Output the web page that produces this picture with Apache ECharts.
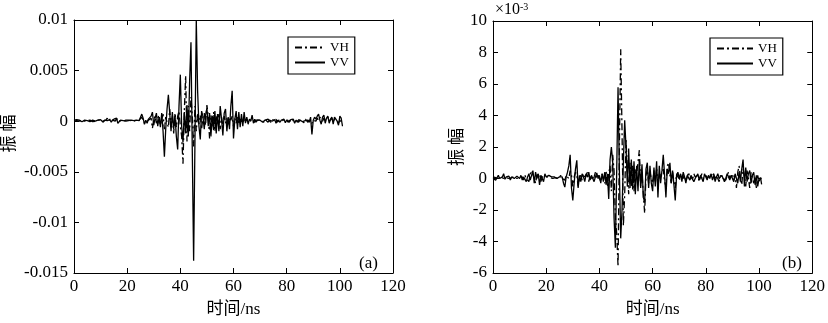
<!DOCTYPE html>
<html>
<head>
<meta charset="utf-8">
<script src="https://cdn.jsdelivr.net/npm/echarts@6/dist/echarts.min.js"></script>
<style>
  html, body { margin: 0; padding: 0; background: #fff; }
  #chart { width: 828px; height: 323px; }
</style>
</head>
<body>
<div id="chart"></div>
<script>
// sampling step of both records, ns
const dt = 0.5
const xTicks = [0, 20, 40, 60, 80, 100, 120]

// (a) amplitudes, unit 1e-3
const vvA = [
  0.1, 0.05, 0.15, 0.2, 0.1, 0.0, -0.05, 0.05, 0.1, 0.0, 0.05, 0.1, -0.05, 0.0, 0.1, 0.15, 0.0, -0.1, 0.1, 0.05,
  0.15, 0.0, -0.1, 0.1, 0.2, 0.05, -0.05, 0.15, -0.1, 0.1, 0.25, 0.0, 0.3, -0.2, -0.1, 0.1, 0.0, 0.05, 0.1, 0.0,
  0.1, 0.05, 0.0, 0.1, 0.15, 0.05, -0.1, 0.1, 0.0, 0.05, 0.15, 0.7, 0.3, -0.3, 0.1, -0.2, 0.2, 0.05, 0.5, 0.9,
  -0.4, 0.3, 0.8, -0.5, 0.4, -0.6, 0.8, -1.0, -3.5, -0.8, 1.2, 2.6, 0.8, -1.0, 0.9, -0.8, 0.5, -1.5, -2.8, 1.5,
  4.6, -0.5, -2.1, 0.9, -1.2, 1.6, -1.5, 4.0, 7.8, -3.0, -13.8, -2.0, 10.0, 3.0, -0.5, -1.8, 1.0, 0.5, -0.8, 0.6,
  1.3, -0.5, 0.8, -1.5, 0.5, -0.9, 1.0, -1.2, 0.7, -1.0, 1.5, 0.2, -1.4, 0.8, 1.2, -1.0, 0.4, -0.8, 1.5, 3.0,
  -1.7, 0.2, 1.0, -0.8, 0.9, -0.6, 0.7, -0.5, 0.9, -0.2, 0.4, -0.3, 0.2, 0.0, 0.6, -0.2, 0.2, -0.1, 0.1, 0.0,
  0.1, 0.2, -0.1, 0.0, 0.15, 0.05, -0.1, 0.1, 0.2, 0.0, -0.1, 0.15, -0.2, 0.1, 0.2, -0.1, 0.1, 0.0, 0.2, -0.15,
  0.1, 0.2, -0.1, 0.15, 0.0, 0.2, -0.2, 0.1, 0.15, -0.1, 0.1, 0.2, -0.05, 0.1, 0.05, 0.0, 0.1, -0.1, 0.4, -1.3,
  0.1, 0.4, 0.2, 0.5, 0.7, 0.1, -0.3, 0.4, 0.6, -0.2, 0.3, 0.5, -0.2, 0.2, 0.4, -0.3, 0.4, 0.5, 0.0, -0.4,
  0.5, 0.3, -0.5
]
const vhA = [
  0.0, 0.1, 0.05, 0.1, 0.0, 0.05, 0.1, -0.05, 0.0, 0.1, 0.05, 0.0, 0.1, 0.05, -0.05, 0.1, 0.0, 0.05, 0.1, 0.0,
  0.1, 0.05, 0.0, 0.15, 0.1, 0.3, 0.0, 0.2, 0.0, 0.1, 0.2, 0.1, 0.3, 0.0, 0.1, 0.05, 0.1, 0.0, 0.05, 0.1,
  0.05, 0.1, 0.0, 0.05, 0.1, 0.0, 0.05, 0.1, 0.0, 0.1, 0.2, 0.4, 0.1, -0.2, 0.0, -0.1, 0.1, 0.2, 0.3, -0.7,
  0.1, 0.5, -0.2, 0.3, 0.6, -0.4, 0.2, 0.7, -0.8, 0.4, 0.3, -0.6, 1.2, -0.5, 0.6, -1.2, 0.8, -0.6, 0.5, 1.0,
  -0.5, -1.5, -4.2, 1.0, 4.5, -2.0, 1.5, -1.0, 2.4, 0.5, -2.5, 1.5, -1.0, 0.8, -0.3, 0.6, -0.8, 0.4, 0.8, -0.4,
  1.6, 0.5, -1.7, 0.6, -0.5, 0.9, -1.0, 0.5, -0.3, 0.7, -0.8, 0.4, -0.4, 0.5, -0.2, 0.3, -0.3, 0.4, 0.1, 0.5,
  -0.5, 0.3, -0.2, 0.4, -0.3, 0.2, 0.1, -0.2, 0.3, 0.0, 0.2, -0.1, 0.1, 0.2, 0.0, 0.1, -0.1, 0.1, 0.0, 0.1,
  0.0, 0.1, 0.2, -0.1, 0.1, 0.0, 0.2, 0.1, -0.1, 0.2, 0.1, 0.0, 0.2, -0.1, 0.1, 0.25, 0.0, -0.1, 0.15, 0.1,
  0.2, -0.1, 0.1, 0.25, -0.1, 0.1, 0.0, 0.2, -0.1, 0.15, 0.25, 0.0, 0.1, -0.15, 0.2, 0.1, -0.1, 0.1, 0.0, -0.2,
  0.1, 0.2, 0.0, 0.3, 0.1, 0.4, 0.2, 0.0, 0.3, 0.1, 0.2, 0.4, 0.0, 0.1, 0.3, -0.1, 0.2, 0.1, 0.0, -0.2,
  0.1, 0.0, -0.3
]

// (b) amplitudes, unit 1e-3
const vvB = [
  0.0, 0.1, -0.1, 0.05, 0.2, 0.0, -0.1, 0.1, 0.3, -0.05, 0.1, 0.0, 0.15, -0.1, 0.1, 0.2, 0.0, -0.1, 0.15, 0.1,
  0.0, 0.2, -0.1, 0.1, 0.0, -0.2, 0.1, 0.3, -0.1, 0.2, 0.5, -0.3, 0.4, 0.0, 0.3, -0.4, 0.2, 0.1, -0.2, 0.3,
  0.1, 0.0, 0.2, 0.1, 0.1, 0.0, 0.1, 0.1, 0.0, 0.1, 0.1, 0.05, 0.1, -0.3, -0.55, 0.1, 0.4, 0.8, 1.5, -0.6,
  -1.4, -0.3, 0.6, 1.15, -0.6, 0.2, -0.2, 0.3, 0.1, -0.2, 0.3, 0.1, 0.4, -0.1, 0.2, 0.3, -0.2, 0.1, 0.35, 0.0,
  0.2, -0.3, 0.3, -0.2, 0.4, -0.4, 0.3, -1.3, 1.2, 2.0, 1.0, -2.5, -4.4, 0.5, 5.8, 0.5, -3.8, -2.0, 1.0, 3.7,
  2.0, -0.5, 1.9, -0.6, 1.2, -0.7, 1.1, -1.0, 0.8, -0.8, 1.2, -0.6, 0.9, -1.2, -1.5, 0.6, 1.0, -0.6, 0.8, -0.3,
  -0.8, 0.7, -0.5, 1.1, -1.2, 0.8, -0.3, 0.5, 1.5, 0.2, -1.2, 0.6, 0.3, 1.0, -0.3, 0.5, -0.4, -1.4, 0.2, 0.4,
  0.0, 0.3, -0.2, 0.4, 0.1, -0.3, 0.2, 0.3, -0.1, 0.1, 0.2, -0.2, 0.0, 0.1, 0.3, -0.1, 0.2, 0.0, -0.2, 0.3,
  0.1, -0.1, 0.2, 0.0, 0.3, -0.1, 0.2, -0.2, 0.1, 0.3, 0.0, -0.1, 0.2, 0.1, -0.2, 0.0, 0.3, 0.1, -0.1, 0.2,
  0.0, -0.2, 0.3, 0.0, -0.3, 0.4, -0.2, 0.6, 1.2, -0.5, 0.7, -0.2, 0.3, 0.5, -0.3, 0.2, 0.4, -0.4, 0.2, -0.5,
  0.0, -0.1, 0.0
]
const vhB = [
  0.1, 0.0, 0.05, 0.1, 0.0, -0.05, 0.1, 0.2, 0.0, 0.1, 0.05, 0.1, 0.0, 0.1, 0.05, 0.0, 0.1, 0.05, 0.0, 0.1,
  0.1, 0.0, 0.1, -0.1, 0.2, 0.0, 0.1, -0.2, 0.3, 0.5, 0.6, 0.0, -0.3, 0.2, 0.1, 0.3, -0.2, 0.1, 0.0, 0.1,
  0.0, 0.1, 0.1, 0.05, 0.1, 0.0, 0.1, 0.05, 0.1, 0.0, 0.1, 0.2, 0.0, 0.1, -0.1, 0.2, 0.3, 0.0, 0.5, 0.2,
  -0.5, 0.1, 0.4, 0.2, -0.5, 0.0, 0.2, -0.1, 0.3, 0.1, 0.0, 0.4, -0.2, 0.2, 0.3, -0.1, 0.1, 0.4, 0.0, 0.2,
  0.1, -0.2, 0.3, 0.0, -0.3, 0.5, -0.5, 0.3, 0.8, -0.8, 1.5, 0.5, -2.5, -3.5, -5.6, 2.0, 8.2, 3.0, -3.0, -1.0,
  2.5, 0.5, -1.0, 1.0, -0.5, 0.8, -0.8, 0.6, 0.3, 1.0, 1.8, -0.5, 0.4, -1.0, -2.2, 0.2, 0.6, -0.3, 0.4, 0.0,
  -0.3, 0.5, -0.2, 0.6, -0.5, 0.3, 0.1, 0.4, 0.6, -0.2, -0.5, 0.8, 1.0, 0.2, -0.3, 0.4, -0.2, -0.6, 0.3, 0.1,
  0.2, -0.1, 0.3, 0.0, 0.2, -0.2, 0.1, 0.4, 0.0, 0.2, -0.1, 0.3, 0.1, 0.0, 0.2, -0.2, 0.1, 0.3, 0.0, 0.1,
  0.2, 0.0, -0.1, 0.3, 0.1, 0.0, 0.3, -0.1, 0.2, 0.1, -0.2, 0.2, 0.3, 0.0, 0.1, -0.1, 0.2, 0.4, 0.0, 0.1,
  0.3, -0.1, 0.2, -0.6, 0.4, 0.8, 0.1, -0.4, 0.6, 0.2, -0.5, 0.5, 0.0, -0.6, 0.4, 0.3, -0.3, 0.1, -0.6, 0.2,
  -0.2, 0.1, -0.4
]

const serif = "'Liberation Serif', 'Times New Roman', 'Noto Sans CJK SC', serif"
const dashDot = [7, 3, 2, 3]

function pairs (arr) {
  return arr.map((v, i) => [i * dt, v])
}

function xAxes (gridIndex) {
  const common = {
    type: 'value',
    gridIndex: gridIndex,
    min: xTicks[0],
    max: xTicks[xTicks.length - 1],
    interval: xTicks[1] - xTicks[0],
    splitLine: { show: false },
    axisLine: { onZero: false, lineStyle: { color: '#000', width: 1 } },
    axisTick: { inside: true, length: 5, lineStyle: { color: '#000' } }
  }
  return [
    Object.assign({}, common, {
      position: 'bottom',
      name: '时间/ns',
      nameLocation: 'middle',
      nameGap: 28,
      nameTextStyle: { fontFamily: serif, fontSize: 17, color: '#000' },
      axisLabel: { fontFamily: serif, fontSize: 17, color: '#000', margin: 5 }
    }),
    Object.assign({}, common, { position: 'top', axisLabel: { show: false } })
  ]
}

function yAxes (gridIndex, min, max, step, fmt, gap, pad) {
  const common = {
    type: 'value',
    gridIndex: gridIndex,
    min: min,
    max: max,
    interval: step,
    splitLine: { show: false },
    axisLine: { show: true, onZero: false, lineStyle: { color: '#000', width: 1 } },
    axisTick: { show: true, inside: true, length: 5, lineStyle: { color: '#000' } }
  }
  return [
    Object.assign({}, common, {
      position: 'left',
      name: '振 幅',
      nameLocation: 'middle',
      nameGap: gap,
      nameTextStyle: { fontFamily: serif, fontSize: 17, color: '#000', padding: pad },
      axisLabel: { fontFamily: serif, fontSize: 17, color: '#000', margin: 6, formatter: fmt }
    }),
    Object.assign({}, common, { position: 'right', axisLabel: { show: false } })
  ]
}

function legendAt (left, top, w) {
  return {
    orient: 'vertical',
    left: left,
    top: top,
    data: ['VH', 'VV'],
    itemWidth: w,
    itemHeight: 12,
    itemGap: 2,
    padding: [4, 6, 5, 6],
    borderColor: '#000',
    borderWidth: 1.2,
    selectedMode: false,
    itemStyle: { color: 'rgba(0,0,0,0)', borderWidth: 0, opacity: 0 },
    textStyle: { fontFamily: serif, fontSize: 13, color: '#000' }
  }
}

function line (name, data, xi, yi, dashed) {
  return {
    name: name,
    type: 'line',
    xAxisIndex: xi,
    yAxisIndex: yi,
    data: pairs(data),
    symbol: 'none',
    clip: true,
    silent: true,
    animation: false,
    lineStyle: { color: '#000', width: 1.3, type: dashed ? dashDot : 'solid' },
    itemStyle: { color: '#000' }
  }
}

const chart = echarts.init(document.getElementById('chart'))
chart.setOption({
  backgroundColor: '#fff',
  animation: false,
  grid: [
    { left: 71, top: 20, width: 322, height: 261 },
    { left: 493, top: 21, width: 324, height: 258 }
  ],
  xAxis: xAxes(0).concat(xAxes(1)),
  yAxis: yAxes(0, -15, 10, 5, v => v === 0 ? '0' : String(v / 1000), 56, [0, 0, 0, 26])
    .concat(yAxes(1, -6, 10, 2, v => String(v), 26, [0, 0, 0, 0])),
  legend: [legendAt(288, 37, 30), legendAt(710, 38, 36)],
  graphic: [
    { type: 'text', left: 359, top: 255, style: { text: '(a)', font: '17px ' + serif, fill: '#000' } },
    { type: 'text', left: 782, top: 255, style: { text: '(b)', font: '17px ' + serif, fill: '#000' } },
    {
      type: 'text',
      left: 495,
      top: 2,
      style: {
        text: '{a|×10}{b|-3}',
        rich: {
          a: { fontFamily: serif, fontSize: 16, fill: '#000', verticalAlign: 'bottom' },
          b: { fontFamily: serif, fontSize: 10, fill: '#000', verticalAlign: 'top' }
        }
      }
    }
  ],
  series: [
    line('VH', vhA, 0, 0, true),
    line('VV', vvA, 0, 0, false),
    line('VH', vhB, 2, 2, true),
    line('VV', vvB, 2, 2, false)
  ]
})
</script>
</body>
</html>
